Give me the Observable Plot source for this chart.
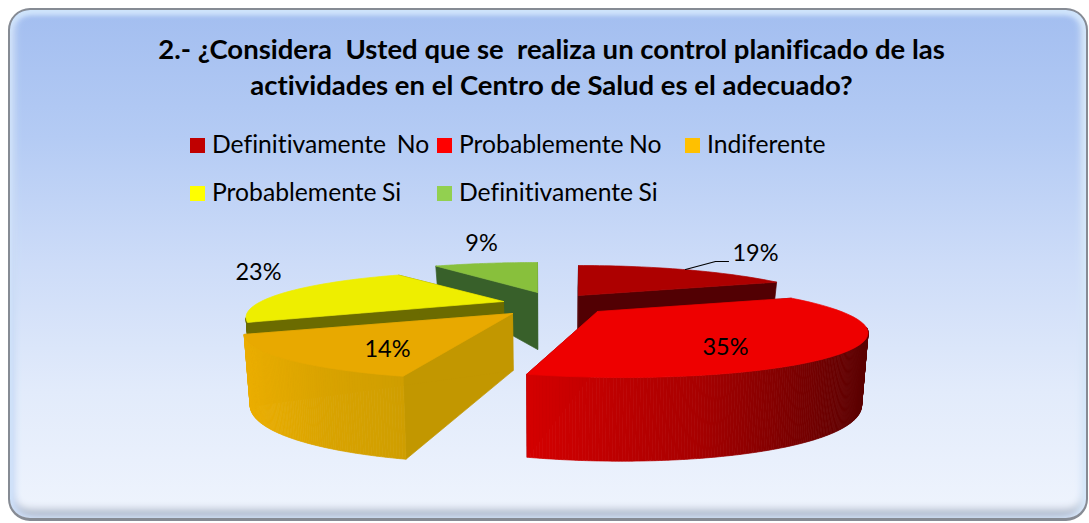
<!DOCTYPE html>
<html><head><meta charset="utf-8">
<script src="https://cdn.jsdelivr.net/npm/d3@7"></script>
<script src="https://cdn.jsdelivr.net/npm/@observablehq/plot@0.6"></script>
<style>
html,body{margin:0;padding:0;background:#fff;}
#wrap{position:relative;width:1089px;height:523px;overflow:hidden;font-family:Lato,sans-serif;color:#000;font-variant-ligatures:none;}
#frame{position:absolute;left:8px;top:8px;width:1076px;height:508px;border:2px solid #868b94;border-bottom-width:3px;border-radius:22px;
 background:linear-gradient(180deg,#a3bef0 0%,#b4cbf4 25%,#cddcf8 50%,#e2ebfb 75%,#eff4fd 100%);
 box-shadow:inset 0 5px 5px #cfe4fb,inset 5px 0 7px #cfe0fb,inset -5px 0 7px #dcebfc,inset 0 -8px 8px #aab4c6;}
#title{position:absolute;left:0;width:1103px;top:31px;text-align:center;font-weight:700;font-size:27.5px;line-height:35.5px;white-space:pre;}
.lg{position:absolute;font-size:24.7px;line-height:28px;white-space:pre;word-spacing:-1px;}
.sw{position:absolute;width:15px;height:15px;}
svg{position:absolute;left:0;top:0;background:transparent;}
</style></head>
<body><div id="wrap"><div id="frame"></div>
<div id="title">2.- ¿Considera  Usted que se  realiza un control planificado de las
actividades en el Centro de Salud es el adecuado?</div>
<div id="legend"></div>
</div>
<script>
const categories = ["Definitivamente  No","Probablemente No","Indiferente","Probablemente Si","Definitivamente Si"];
const values = [19,35,14,23,9];
const labels = ["19%","35%","14%","23%","9%"];
const topColors = ["#ad0000","#ee0000","#e8a900","#eeee00","#88c03c"];
const swatchColors = ["#c00000","#ff0000","#ffc000","#ffff00","#92d050"];
const cutColors = ["#520003","#8a0000","#c29700","#6b6b00","#38602a"];
const sideRamps = [["#520003","#520003"],["#d40000","#a80000","#5a0000"],["#ebae00","#d9a300","#cf9e00"],["#6b6b00","#6b6b00"],["#38602a","#38602a"]];

// layout of the exploded pie, in pixels of the chart's x and y scales
const centerX = 545, centerY = 300;
const explodeX = [33,52,-33,-42,-8], explodeY = [-5,11,13,1,-8];
const radiusX = 250, radiusY = 41.25, perspective = 0.375;
const sliceScale = [0.97,0.975,0.98,0.97,1];
const sliceSkew = [0,-16,9,-10,0];
const drawOrder = [4,0,3,2,1];
const labelX = [755,725,387,258,481], labelY = [253,347,349,272,243];
const legendX = [190,437,685,190,437], legendY = [145,145,145,193,193];
const leaderX = [685,715,728], leaderY = [269,261,261];

const arcs = d3.pie().sort(null)(values);
const rad = Math.PI/180;
function project(i,a){
  const X=Math.sin(a),Z=Math.cos(a),p=1/(1+perspective*Z);
  return {x:centerX+explodeX[i]+radiusX*sliceScale[i]*X*p+sliceSkew[i]*Z*p,y:centerY+explodeY[i]-radiusY*Z*p,p};
}
function drop(i,pt){ // same point on the lower rim of the slice
  const h=pt.p>=1?57+26*Math.sqrt((pt.p-1)/0.57):57-(1-pt.p)*120;
  return {x:centerX+(pt.x-centerX)*0.98,y:pt.y+h};
}
const rows=[]; let uid=0;
function poly(color,pts){const id=uid++;for(const q of [...pts,pts[0]])rows.push({id,color,x:q.x,y:q.y});}
for(const i of drawOrder){
  const s=arcs[i],a0=s.startAngle,a1=s.endAngle;
  const apex={x:centerX+explodeX[i],y:centerY+explodeY[i],p:1};
  const pts=d3.range(0,1.0001,1/40).map(t=>project(i,a0+(a1-a0)*t));
  for(const e of [pts[0],pts[pts.length-1]]) poly(cutColors[i],[apex,e,drop(i,e),drop(i,apex)]);
  const lo=Math.max(a0,110*rad),hi=Math.min(a1,250*rad);
  if(hi>lo){
    const ramp=d3.piecewise(d3.interpolateRgb,sideRamps[i]);
    const n=Math.ceil((hi-lo)/(0.5*rad));
    const ring=d3.range(n+1).map(k=>project(i,lo+(hi-lo)*k/n));
    const xs=d3.extent(ring,d=>d.x);
    for(let k=0;k<n;k++){
      const m=(ring[k].x+ring[k+1].x)/2;
      poly(ramp((m-xs[0])/(xs[1]-xs[0])),[ring[k],ring[k+1],drop(i,ring[k+1]),drop(i,ring[k])]);
    }
  }
  poly(topColors[i],[apex,...pts]);
}
const labelRows=labels.map((t,i)=>({t,x:labelX[i],y:labelY[i]}));
const leader=leaderX.map((x,i)=>({x,y:leaderY[i]}));

const chart=Plot.plot({
  width:1089,height:523,margin:0,
  x:{domain:[0,1089],range:[0,1089],axis:null},
  y:{domain:[0,523],range:[0,523],axis:null},
  color:{type:"identity"},
  style:{background:"transparent"},
  marks:[
    Plot.line(rows,{x:"x",y:"y",z:"id",fill:"color",stroke:"color",strokeWidth:0.7}),
    Plot.line(leader,{x:"x",y:"y",stroke:"#000",strokeWidth:1.2}),
    Plot.text(labelRows,{x:"x",y:"y",text:"t",fontSize:23.5,fontFamily:"Lato, sans-serif",fill:"#000"})
  ]
});
document.getElementById("wrap").appendChild(chart);

const lg=document.getElementById("legend");
categories.forEach((c,i)=>{
  const sw=document.createElement("div");sw.className="sw";
  sw.style.cssText=`left:${legendX[i]}px;top:${legendY[i]-7}px;background:${swatchColors[i]}`;
  const tx=document.createElement("div");tx.className="lg";tx.textContent=c;
  tx.style.cssText=`left:${legendX[i]+22}px;top:${legendY[i]-15}px`;
  lg.append(sw,tx);
});
</script></body></html>
